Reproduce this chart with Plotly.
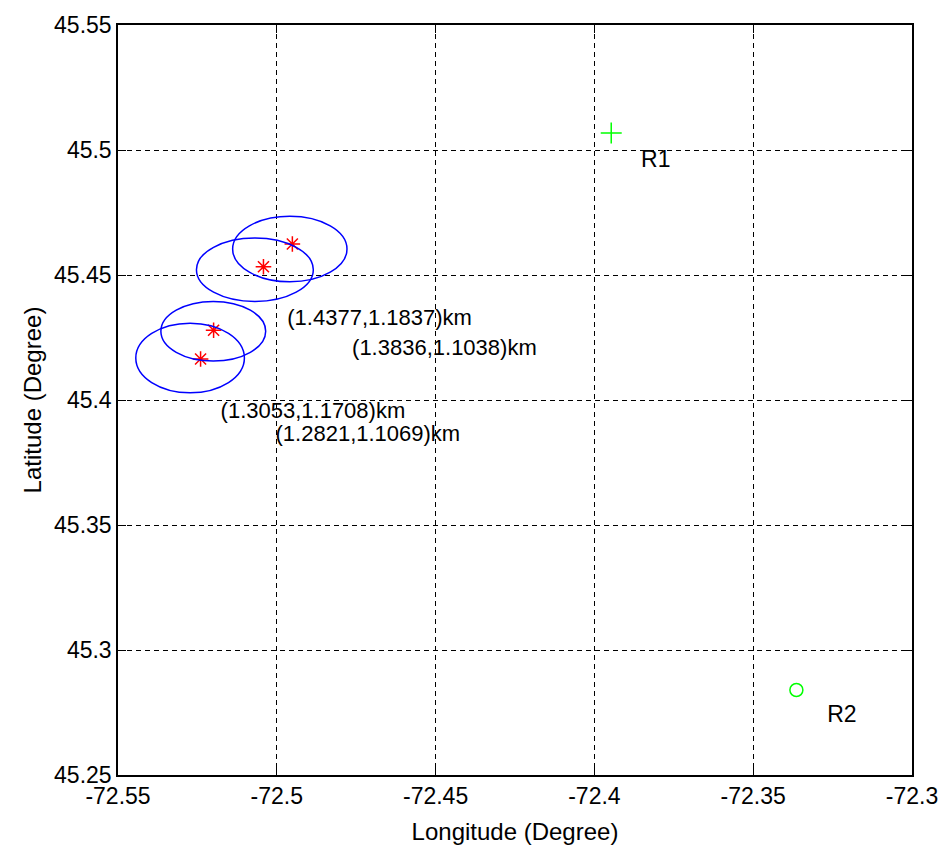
import plotly.graph_objects as go

# Estimated target positions (red asterisks)
est_lon = [-72.4951, -72.5042, -72.5199, -72.5240]
est_lat = [45.4624, 45.4533, 45.4279, 45.4164]

# Error ellipses: centre and semi-axes (degrees)
ell_lon = [-72.4959, -72.5069, -72.5200, -72.5273]
ell_lat = [45.4604, 45.4521, 45.4275, 45.4168]
ell_a = [0.0180, 0.0184, 0.0165, 0.0171]
ell_b = [0.0131, 0.0127, 0.0119, 0.0139]

# Receivers
rx_names = ["R1", "R2"]
rx_lon = [-72.3947, -72.3364]
rx_lat = [45.5068, 45.2840]
rx_label_lon = [-72.3853, -72.3267]
rx_label_lat = [45.4957, 45.2737]

# Ellipse size labels
km_labels = ["(1.4377,1.1837)km", "(1.3836,1.1038)km", "(1.3053,1.1708)km", "(1.2821,1.1069)km"]
km_lon = [-72.4967, -72.4763, -72.5177, -72.5004]
km_lat = [45.4323, 45.4204, 45.3950, 45.3857]

FONT = "Liberation Sans, Arial, sans-serif"
GREEN = "#00ff00"

fig = go.Figure()

for cx, cy, a, b in zip(ell_lon, ell_lat, ell_a, ell_b):
    fig.add_shape(type="circle", xref="x", yref="y",
                  x0=cx - a, x1=cx + a, y0=cy - b, y1=cy + b,
                  line=dict(color="blue", width=1.5))

fig.add_trace(go.Scatter(x=est_lon, y=est_lat, mode="markers",
                         marker=dict(symbol="asterisk-open", size=13,
                                     line=dict(color="red", width=1.5), color="red"),
                         showlegend=False))

fig.add_trace(go.Scatter(x=[rx_lon[0]], y=[rx_lat[0]], mode="markers",
                         marker=dict(symbol="cross-thin-open", size=15, color=GREEN,
                                     line=dict(color=GREEN, width=1.5)),
                         showlegend=False))
fig.add_trace(go.Scatter(x=[rx_lon[1]], y=[rx_lat[1]], mode="markers",
                         marker=dict(symbol="circle-open", size=13, color=GREEN,
                                     line=dict(color=GREEN, width=1.5)),
                         showlegend=False))

fig.add_trace(go.Scatter(x=rx_label_lon, y=rx_label_lat, mode="text", text=rx_names,
                         textposition="middle right",
                         textfont=dict(family=FONT, size=23, color="black"),
                         showlegend=False))
fig.add_trace(go.Scatter(x=km_lon, y=km_lat, mode="text", text=km_labels,
                         textposition="middle right",
                         textfont=dict(family=FONT, size=22, color="black"),
                         showlegend=False))

axis_common = dict(showline=True, mirror="ticks", linecolor="black", linewidth=1.5,
                   ticks="inside", ticklen=8, tickcolor="black",
                   showgrid=True, gridcolor="black", griddash="5px,4px", gridwidth=1,
                   zeroline=False, tickfont=dict(family=FONT, size=23, color="black"))

fig.update_xaxes(range=[-72.55, -72.3], tickvals=[-72.55, -72.5, -72.45, -72.4, -72.35, -72.3],
                 ticktext=["-72.55", "-72.5", "-72.45", "-72.4", "-72.35", "-72.3"],
                 title=dict(text="Longitude (Degree)", font=dict(family=FONT, size=24, color="black"),
                            standoff=15),
                 **axis_common)
fig.update_yaxes(range=[45.25, 45.55], tickvals=[45.25, 45.3, 45.35, 45.4, 45.45, 45.5, 45.55],
                 ticktext=["45.25", "45.3", "45.35", "45.4", "45.45", "45.5", "45.55"],
                 title=dict(text="Latitude (Degree)", font=dict(family=FONT, size=24, color="black"),
                            standoff=6),
                 **axis_common)

fig.update_layout(width=950, height=854, margin=dict(l=118, r=35, t=18, b=79),
                  plot_bgcolor="white", paper_bgcolor="white")

fig.write_html("out.html")
